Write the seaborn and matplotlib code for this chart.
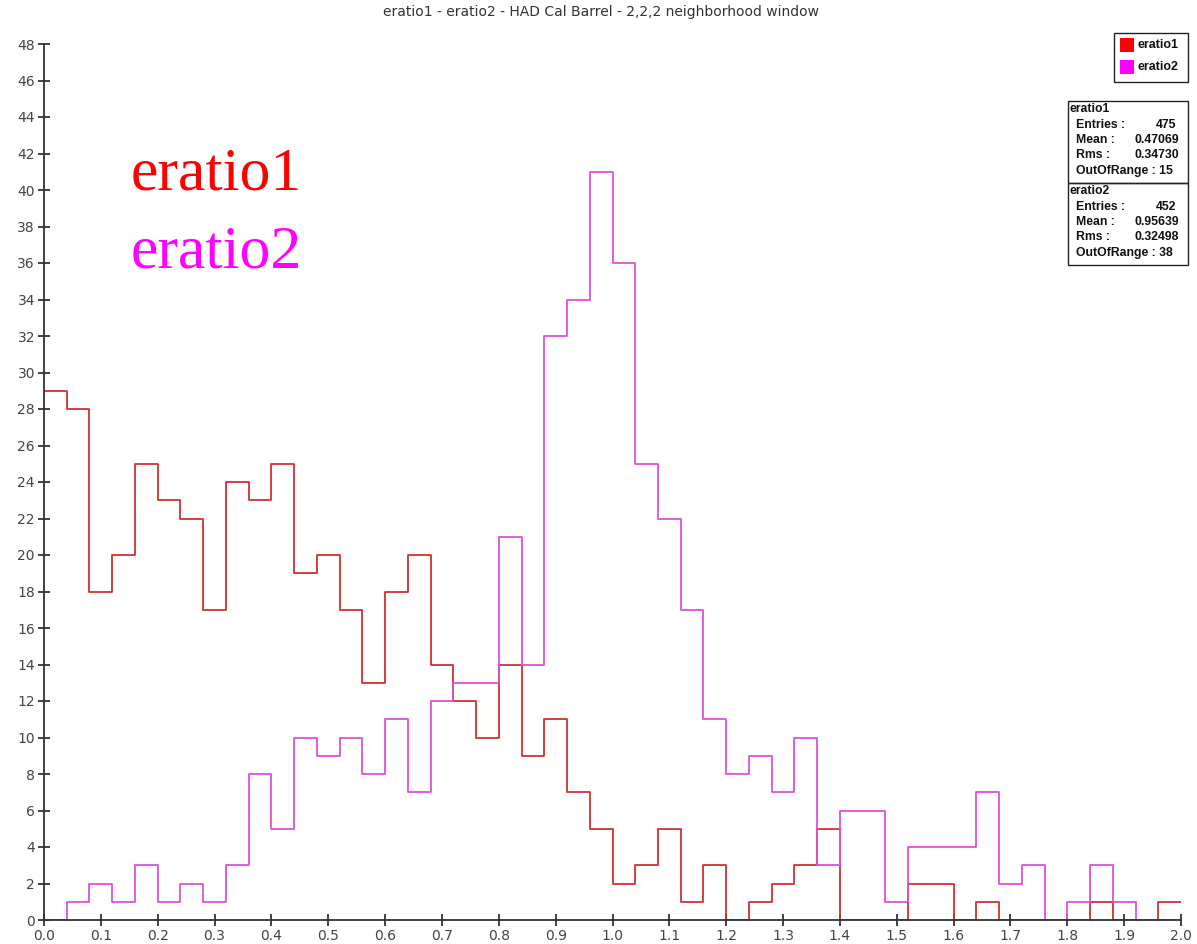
import matplotlib
matplotlib.use('Agg')
import matplotlib.pyplot as plt
from matplotlib.patches import Rectangle
from matplotlib.ticker import MultipleLocator, FormatStrFormatter
import numpy as np
import pandas as pd
import seaborn as sns

# histogram contents, 50 bins of width 0.04 between 0 and 2
bin_edges = [round(0.04 * i, 2) for i in range(51)]
eratio1 = [29, 28, 18, 20, 25, 23, 22, 17, 24, 23,
           25, 19, 20, 17, 13, 18, 20, 14, 12, 10,
           14, 9, 11, 7, 5, 2, 3, 5, 1, 3,
           0, 1, 2, 3, 5, 0, 0, 0, 2, 2,
           0, 1, 0, 0, 0, 0, 1, 0, 0, 1]
eratio2 = [0, 1, 2, 1, 3, 1, 2, 1, 3, 8,
           5, 10, 9, 10, 8, 11, 7, 12, 13, 13,
           21, 14, 32, 34, 41, 36, 25, 22, 17, 11,
           8, 9, 7, 10, 3, 6, 6, 1, 4, 4,
           4, 7, 2, 3, 0, 1, 3, 1, 0, 0]
stats1 = ["475", "0.47069", "0.34730", "15"]
stats2 = ["452", "0.95639", "0.32498", "38"]
title = "eratio1 - eratio2 - HAD Cal Barrel - 2,2,2 neighborhood window"

W, H = 1197, 944
sns.set_style("ticks")
plt.rcParams['font.family'] = ['DejaVu Sans']

fig = plt.figure(figsize=(W / 100, H / 100), dpi=100)
ax = fig.add_axes([44 / W, 1 - 920 / H, (1181 - 44) / W, (920 - 44) / H])

edges = np.array(bin_edges)
centers = (edges[:-1] + edges[1:]) / 2
df1 = pd.DataFrame({"x": centers, "w": eratio1})
df2 = pd.DataFrame({"x": centers, "w": eratio2})
sns.histplot(data=df1, x="x", weights="w", bins=bin_edges, element="step",
             fill=False, color="#d03030", linewidth=1.3, ax=ax)
sns.histplot(data=df2, x="x", weights="w", bins=bin_edges, element="step",
             fill=False, color="#dd50dd", linewidth=1.3, ax=ax)

ax.set_xlim(0, 2.0)
ax.set_ylim(0, 48)
ax.set_xlabel("")
ax.set_ylabel("")
ax.xaxis.set_major_locator(MultipleLocator(0.1))
ax.xaxis.set_major_formatter(FormatStrFormatter("%.1f"))
ax.yaxis.set_major_locator(MultipleLocator(2))
ax.tick_params(direction="inout", length=9, width=1.2, colors="#222222",
               labelsize=10, labelcolor="#444444", pad=2)
for side in ["top", "right"]:
    ax.spines[side].set_visible(False)
for side in ["left", "bottom"]:
    ax.spines[side].set_color("#333333")
    ax.spines[side].set_linewidth(1.3)

fig.text(0.502, 1 - 12 / H, title, ha="center", va="center", fontsize=10,
         color="#333333")


def fx(px):
    return px / W


def fy(py):
    return 1 - py / H


# big labels in the plot
fig.text(fx(131), fy(190), "eratio1", family="Liberation Serif", fontsize=44.5,
         color="#ff0000", va="baseline")
fig.text(fx(131), fy(267), "eratio2", family="Liberation Serif", fontsize=44.5,
         color="#ff00ff", va="baseline")

# legend box
fig.add_artist(Rectangle((fx(1114), fy(82)), fx(1188) - fx(1114), fy(33) - fy(82),
                         transform=fig.transFigure, fill=False, edgecolor="#222222", lw=1))
for i, (name, col) in enumerate([("eratio1", "#ff0000"), ("eratio2", "#ff00ff")]):
    yc = 45 + 22 * i
    fig.add_artist(Rectangle((fx(1120), fy(yc + 7)), fx(1134) - fx(1120), fy(yc - 7) - fy(yc + 7),
                             transform=fig.transFigure, facecolor=col, edgecolor="none"))
    fig.text(fx(1138), fy(yc), name, family="Liberation Sans", fontweight="bold",
             fontsize=9, va="center", color="#111111")

# statistics boxes
for k, (name, st) in enumerate([("eratio1", stats1), ("eratio2", stats2)]):
    top = 101 + 82 * k
    fig.add_artist(Rectangle((fx(1068), fy(top + 82)), fx(1188) - fx(1068), fy(top) - fy(top + 82),
                             transform=fig.transFigure, fill=False, edgecolor="#222222", lw=1))
    kw = dict(family="Liberation Sans", fontweight="bold", fontsize=8.8,
              va="center", color="#111111")
    fig.text(fx(1069), fy(top + 8), name, **kw)
    fig.text(fx(1076), fy(top + 24), "Entries :", **kw)
    fig.text(fx(1176), fy(top + 24), st[0], ha="right", **kw)
    fig.text(fx(1076), fy(top + 39), "Mean :", **kw)
    fig.text(fx(1179), fy(top + 39), st[1], ha="right", **kw)
    fig.text(fx(1076), fy(top + 54), "Rms :", **kw)
    fig.text(fx(1179), fy(top + 54), st[2], ha="right", **kw)
    fig.text(fx(1076), fy(top + 70), "OutOfRange : " + st[3], **kw)

fig.savefig("out.png", dpi=100)
plt.close(fig)
